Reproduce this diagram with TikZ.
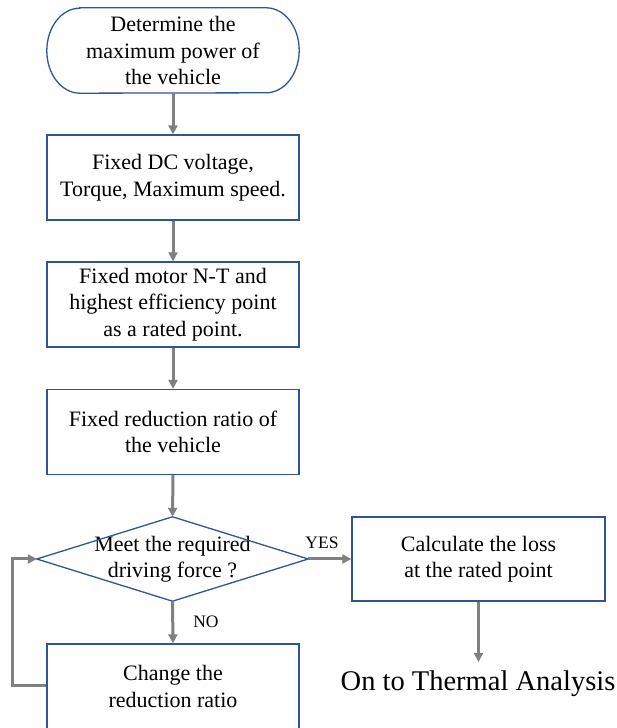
\documentclass[tikz,border=0pt]{standalone}
\usepackage{fontspec}
\setmainfont{Liberation Serif}
\usetikzlibrary{arrows.meta}
\definecolor{boxblue}{RGB}{47,85,151}
\definecolor{arrgray}{RGB}{128,128,128}
\begin{document}
\begin{tikzpicture}[x=1pt,y=1pt,
  every node/.style={font=\fontsize{22}{26.5}\selectfont, align=center, inner sep=0pt},
  procbox/.style={draw=boxblue, line width=1.3pt, minimum width=252pt, minimum height=85pt},
  shapeonly/.style={minimum width=252pt, minimum height=85pt},
  flow/.style={draw=arrgray, line width=3pt, -{Triangle[length=9pt,width=9pt]}},
  smalllabel/.style={font=\fontsize{17.5}{20}\selectfont}]
\useasboundingbox (0,0) rectangle (617,728);

% start terminator
\node[shapeonly] (start) at (173,677.5) {Determine the\\maximum power of\\the vehicle};
\draw[draw=boxblue, line width=1.3pt]
  ([xshift=33pt]start.north west) -- ([xshift=-33pt]start.north east)
  arc[start angle=90, end angle=-90, x radius=33pt, y radius=42.5pt]
  -- ([xshift=33pt]start.south west)
  arc[start angle=270, end angle=90, x radius=33pt, y radius=42.5pt] -- cycle;

\node[procbox] (b2) at (173,550.5) {Fixed DC voltage,\\Torque, Maximum speed.};
\node[procbox] (b3) at (173,423.5) {Fixed motor N-T and\\highest efficiency point\\as a rated point.};
\node[procbox] (b4) at (173,296) {Fixed reduction ratio of\\the vehicle};

% decision
\node[minimum width=271pt, minimum height=84pt] (dia) at (172.5,169) {Meet the required\\driving force ?};
\draw[draw=boxblue, line width=1.3pt] (dia.north) -- (dia.east) -- (dia.south) -- (dia.west) -- cycle;

\node[procbox, minimum width=253pt, minimum height=84pt] (yes) at (478.5,169) {Calculate the loss\\at the rated point};
\node[procbox] (nobox) at (173,41.5) {Change the\\reduction ratio};
\node[font=\fontsize{28.5}{32}\selectfont] (thermal) at (478,44) {On to Thermal Analysis};

\node[smalllabel] (yeslbl) at (322,185) {YES};
\node[smalllabel] (nolbl) at (206,106) {NO};

\coordinate (loopc) at (12,42);
\coordinate (thermtop) at (478.5,66);

\draw[flow] (start.south) -- (b2.north);
\draw[flow] (b2.south) -- (b3.north);
\draw[flow] (b3.south) -- (b4.north);
\draw[flow] (b4.south) -- (dia.north);
\draw[flow] (dia.east) -- (yes.west);
\draw[flow] (dia.south) -- (nobox.north);
\draw[flow] (yes.south) -- (thermtop);
\draw[flow] (nobox.west |- loopc) -- (loopc) |- (dia.west);
\end{tikzpicture}
\end{document}
